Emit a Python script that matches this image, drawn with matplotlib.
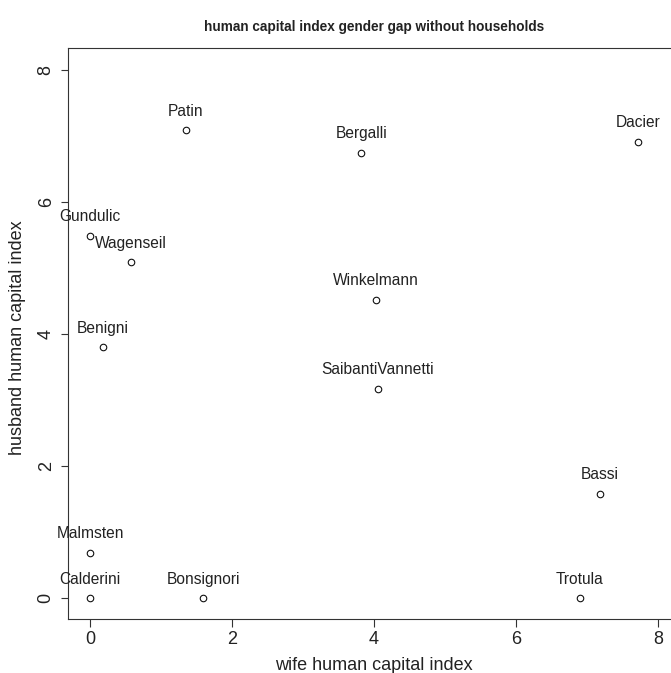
import matplotlib
matplotlib.use("Agg")
import matplotlib.pyplot as plt

plt.rcParams['font.family'] = ['Liberation Sans', 'DejaVu Sans']

# wife / husband human capital index per family
names = ['Patin', 'Bergalli', 'Dacier', 'Gundulic', 'Wagenseil', 'Winkelmann',
         'Benigni', 'SaibantiVannetti', 'Bassi', 'Malmsten', 'Calderini',
         'Bonsignori', 'Trotula']
wife = [1.35, 3.82, 7.72, 0.0, 0.57, 4.03, 0.18, 4.05, 7.18, 0.0, 0.0, 1.59, 6.90]
husband = [7.09, 6.75, 6.92, 5.49, 5.09, 4.52, 3.80, 3.17, 1.58, 0.69, 0.0, 0.0, 0.0]
ticks = [0, 2, 4, 6, 8]

W, H = 671, 673
fig = plt.figure(figsize=(W / 100, H / 100), dpi=100)
# box runs past the right edge of the picture, as in the original
ax = fig.add_axes([67.7 / W, 1 - 619 / H, (677 - 67.7) / W, (619 - 48) / H])

ax.scatter(wife, husband, s=22, facecolors='white', edgecolors='#111111',
           linewidths=0.8, zorder=3)
for n, x, y in zip(names, wife, husband):
    ax.annotate(n, (x, y), xytext=(0, 19), textcoords='offset pixels',
                ha='center', va='center', fontsize=11.2, color='#222222')

ax.set_xlim(-0.318, 8.27)
ax.set_ylim(-0.318, 8.34)
ax.set_xticks(ticks)
ax.set_yticks(ticks)
ax.set_xticklabels([str(t) for t in ticks], fontsize=13, color='#222222')
ax.set_yticklabels([str(t) for t in ticks], fontsize=13, color='#222222',
                   rotation=90, va='center')
ax.tick_params(axis='both', direction='out', length=5.4, width=0.8, color='#333333')
ax.tick_params(axis='x', pad=3.5)
ax.tick_params(axis='y', pad=4)
for sp in ax.spines.values():
    sp.set_color('#333333')
    sp.set_linewidth(0.8)
ax.spines['right'].set_visible(False)

fig.text(374 / W, 1 - 26.5 / H, 'human capital index gender gap without households',
         ha='center', va='center', fontsize=9.8, fontweight='bold', color='#222222')
fig.text(374 / W, 1 - 665 / H, 'wife human capital index',
         ha='center', va='center', fontsize=13, color='#222222')
fig.text(18 / W, 1 - 338 / H, 'husband human capital index',
         ha='center', va='center', rotation=90, fontsize=13, color='#222222')

fig.savefig('out.png', dpi=100)
